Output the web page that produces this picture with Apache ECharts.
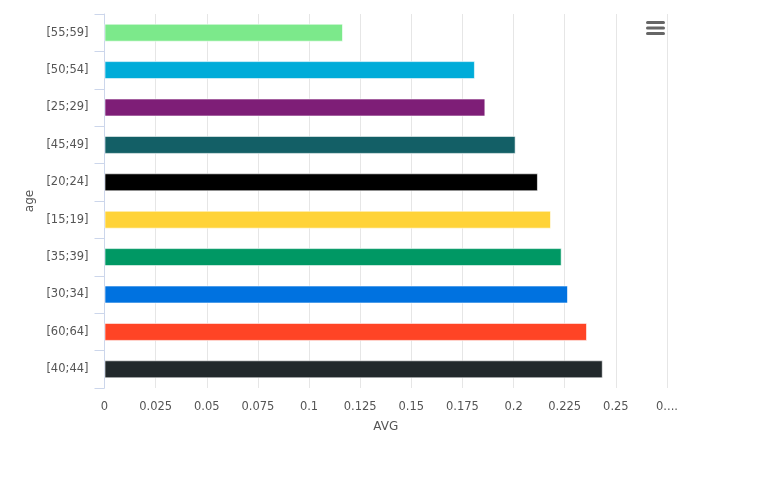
<!DOCTYPE html>
<html>
<head>
<meta charset="utf-8">
<script src="https://cdn.jsdelivr.net/npm/echarts@6/dist/echarts.min.js"></script>
<style>
  html, body { margin: 0; padding: 0; background: #fff; }
  #main { width: 761px; height: 477px; }
</style>
</head>
<body>
<div id="main"></div>
<script>
// age groups, top to bottom
var ageGroups = ['[55;59]', '[50;54]', '[25;29]', '[45;49]', '[20;24]', '[15;19]', '[35;39]', '[30;34]', '[60;64]', '[40;44]'];
var avgValues = [0.1166, 0.1811, 0.1862, 0.2010, 0.2119, 0.2183, 0.2235, 0.2266, 0.2359, 0.2436];
var barColors = ['#7CE98B', '#00ACD9', '#7E1E77', '#135F66', '#000000', '#FFD338', '#009864', '#0072E0', '#FF4425', '#22292C'];

var chart = echarts.init(document.getElementById('main'), null, { renderer: 'canvas' });

var option = {
  animation: false,
  textStyle: { fontFamily: 'DejaVu Sans' },
  grid: {
    left: 104.5,
    right: 94,
    top: 14,
    bottom: 89
  },
  xAxis: {
    type: 'value',
    min: 0,
    max: 0.275,
    interval: 0.025,
    name: 'AVG',
    nameLocation: 'middle',
    nameGap: 33,
    nameTextStyle: { color: '#555', fontSize: 12 },
    axisLine: { show: false },
    axisTick: { show: false },
    axisLabel: {
      color: '#555',
      fontSize: 11.5,
      margin: 13,
      formatter: function (v) {
        // the last label is cut short in the original
        if (Math.abs(v - 0.275) < 1e-9) return '0....';
        return String(+v.toFixed(3));
      }
    },
    splitLine: { show: true, lineStyle: { color: '#e6e6e6', width: 1 } }
  },
  yAxis: {
    type: 'category',
    inverse: true,
    data: ageGroups,
    name: 'age',
    nameLocation: 'middle',
    nameRotate: 90,
    nameGap: 68,
    nameTextStyle: { color: '#555', fontSize: 12 },
    axisLine: { show: true, lineStyle: { color: '#ccd6eb', width: 1 } },
    axisTick: { show: true, length: 10, lineStyle: { color: '#ccd6eb' } },
    axisLabel: { color: '#555', fontSize: 11.5, margin: 16 },
    splitLine: { show: false }
  },
  series: [
    {
      name: 'AVG',
      type: 'bar',
      barWidth: 18,
      data: avgValues.map(function (v, i) {
        return { value: v, itemStyle: { color: barColors[i] } };
      }),
      itemStyle: { borderColor: 'rgba(255,255,255,0.6)', borderWidth: 1 }
    }
  ],
  graphic: [
    {
      type: 'group',
      left: 645,
      top: 20,
      children: [
        { type: 'line', shape: { x1: 1, y1: 1.5, x2: 17, y2: 1.5 }, style: { stroke: '#666', lineWidth: 3, lineCap: 'round' } },
        { type: 'line', shape: { x1: 1, y1: 7, x2: 17, y2: 7 }, style: { stroke: '#666', lineWidth: 3, lineCap: 'round' } },
        { type: 'line', shape: { x1: 1, y1: 12.5, x2: 17, y2: 12.5 }, style: { stroke: '#666', lineWidth: 3, lineCap: 'round' } }
      ]
    }
  ]
};

chart.setOption(option);
</script>
</body>
</html>
